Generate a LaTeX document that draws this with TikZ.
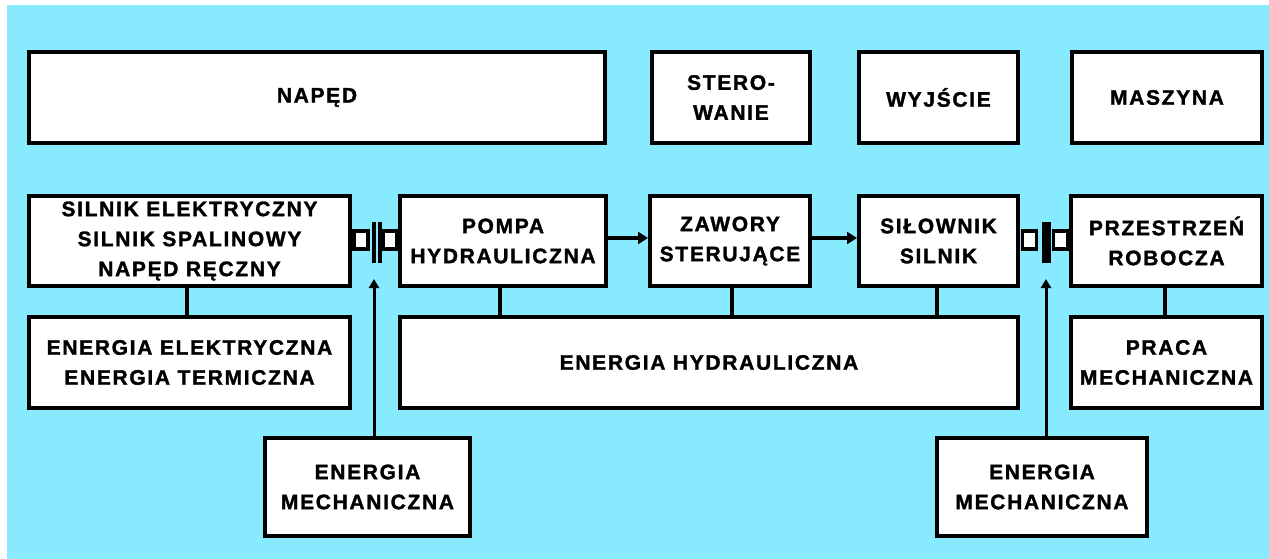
\documentclass[tikz,border=0pt]{standalone}
\usepackage{fontspec}
\newfontfamily\lab{Liberation Sans}[LetterSpace=8, BoldFeatures={FakeBold=1.5}]
\usetikzlibrary{arrows.meta}
\definecolor{bg}{RGB}{136,234,255}
\tikzset{
  box/.style={draw=black, fill=white, line width=4pt, inner sep=0pt, align=center,
    font={\lab\bfseries\fontsize{21}{30}\selectfont}},
  link/.style={line width=4pt},
  arr/.style={line width=4pt, -{Triangle[length=10pt,width=12pt]}},
  uparr/.style={line width=3pt, -{Triangle[length=9pt,width=10pt]}},
  shaft/.style={draw=black, fill=white, line width=3.5pt, inner sep=0pt, minimum width=14pt, minimum height=18pt},
  disc/.style={draw=black, fill=black, line width=0pt, inner sep=0pt, minimum width=3pt, minimum height=40pt},
}
\begin{document}
\begin{tikzpicture}[x=1pt,y=-1pt]
\useasboundingbox (0,0) rectangle (1269,559);
\fill[white] (0,0) rectangle (1269,559);
\fill[bg] (7,5) rectangle (1269,559);

% header row
\node[box, minimum width=576pt, minimum height=91pt] (naped) at (317,97.5) {NAPĘD};
\node[box, minimum width=158pt, minimum height=91pt] (ster) at (731,97.5) {STERO-\\WANIE};
\node[box, minimum width=159pt, minimum height=91pt] (wyj) at (938.5,97.5) {WYJŚCIE};
\node[box, minimum width=190pt, minimum height=91pt] (masz) at (1167,97.5) {MASZYNA};

% second row
\node[box, minimum width=321pt, minimum height=90pt] (silnik) at (189.5,241) {SILNIK ELEKTRYCZNY\\SILNIK SPALINOWY\\NAPĘD RĘCZNY};
\node[box, minimum width=206pt, minimum height=90pt] (pompa) at (503,241) {POMPA\\HYDRAULICZNA};
\node[box, minimum width=160pt, minimum height=90pt] (zawory) at (730,241) {ZAWORY\\STERUJĄCE};
\node[box, minimum width=159pt, minimum height=90pt] (silow) at (938.5,241) {SIŁOWNIK\\SILNIK};
\node[box, minimum width=191pt, minimum height=90pt] (przes) at (1166.5,241) {PRZESTRZEŃ\\ROBOCZA};

% third row
\node[box, minimum width=321pt, minimum height=91pt] (eel) at (189.5,362.5) {ENERGIA ELEKTRYCZNA\\ENERGIA TERMICZNA};
\node[box, minimum width=618pt, minimum height=91pt] (ehyd) at (709,362.5) {ENERGIA HYDRAULICZNA};
\node[box, minimum width=191pt, minimum height=91pt] (praca) at (1166.5,362.5) {PRACA\\MECHANICZNA};

% fourth row
\node[box, minimum width=205pt, minimum height=98pt] (emL) at (367.5,487) {ENERGIA\\MECHANICZNA};
\node[box, minimum width=210pt, minimum height=98pt] (emR) at (1042,487) {ENERGIA\\MECHANICZNA};

% couplings
\node[shaft] (sL1) at (361,240) {};
\node[shaft] (sL2) at (390,240) {};
\node[disc] (dL1) at (373.5,242) {};
\node[disc] (dL2) at (379.5,242) {};
\node[shaft] (sR1) at (1029.5,240) {};
\node[shaft] (sR2) at (1060.5,240) {};
\node[disc, minimum width=8pt] (dR) at (1046,242) {};
\coordinate (tipL) at (374,279);
\coordinate (tipR) at (1046,279);

% connectors
\draw[link] (silnik.south -| 187,0) -- (eel.north -| 187,0);
\draw[link] (pompa.south -| 500,0) -- (ehyd.north -| 500,0);
\draw[link] (zawory.south -| 732,0) -- (ehyd.north -| 732,0);
\draw[link] (silow.south -| 937,0) -- (ehyd.north -| 937,0);
\draw[link] (przes.south -| 1165,0) -- (praca.north -| 1165,0);
\draw[arr] (pompa.east |- 0,238) -- (zawory.west |- 0,238);
\draw[arr] (zawory.east |- 0,238) -- (silow.west |- 0,238);
\draw[uparr] (emL.north -| tipL) -- (tipL);
\draw[uparr] (emR.north -| tipR) -- (tipR);
\end{tikzpicture}
\end{document}
